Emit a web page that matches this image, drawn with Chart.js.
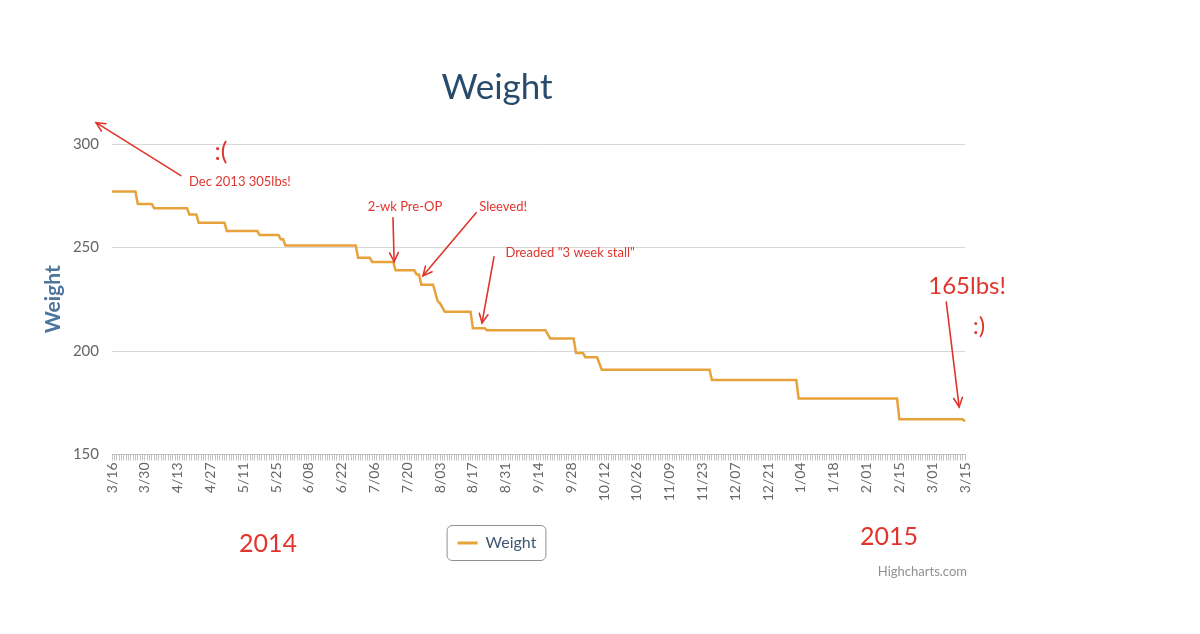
<!DOCTYPE html>
<html lang="en">
<head>
    <meta charset="UTF-8">
    <title>Weight</title>
    <script src="https://cdn.jsdelivr.net/npm/chart.js"></script>
    <style>
        body {
            margin: 0;
            background-color: #fff;
        }
        #wrap {
            position: relative;
            width: 1200px;
            height: 634px;
        }
    </style>
</head>
<body>
    <div id="wrap"><canvas id="weightChart"></canvas></div>

    <script>
        // weigh-ins (M/DD, lbs), start and end of each plateau
        const weighDates = [
            '3/16', '3/26', '3/27', '4/02', '4/03', '4/17', '4/18', '4/21', '4/22', '5/03',
            '5/04', '5/17', '5/18', '5/26', '5/27', '5/28', '5/29', '6/28', '6/29', '7/04',
            '7/05', '7/14', '7/15', '7/23', '7/24', '7/25', '7/26', '7/31', '8/02', '8/03',
            '8/05', '8/16', '8/17', '8/22', '8/23', '9/17', '9/19', '9/29', '9/30', '10/03',
            '10/04', '10/09', '10/11', '11/26', '11/27', '1/02', '1/03', '2/14', '2/15', '3/14',
            '3/15'
        ];
        const weighValues = [
            277, 277, 271, 271, 269, 269, 266, 266, 262, 262,
            258, 258, 256, 256, 254, 254, 251, 251, 245, 245,
            243, 243, 239, 239, 237, 237, 232, 232, 224, 223,
            219, 219, 211, 211, 210, 210, 206, 206, 199, 199,
            197, 197, 191, 191, 186, 186, 177, 177, 167, 167,
            166
        ];
        const yTicks = [150, 200, 250, 300];
        const firstDay = new Date(2014, 2, 16);
        const dayCount = 365;
        const labelEvery = 14;

        // one category per day, 3/16/2014 -> 3/15/2015
        const dayLabels = [];
        for (let i = 0; i < dayCount; i++) {
            const d = new Date(firstDay.getFullYear(), firstDay.getMonth(), firstDay.getDate() + i);
            dayLabels.push((d.getMonth() + 1) + '/' + String(d.getDate()).padStart(2, '0'));
        }

        // hand-written notes, placed in (day index, lbs)
        const RED = '#e0352c';
        const notes = [
            { text: 'Dec 2013 305lbs!', day: 54.6, w: 281.8, size: 13 },
            { text: ':(', day: 46.5, w: 296.3, size: 25 },
            { text: '2-wk Pre-OP', day: 125, w: 269.7, size: 13 },
            { text: 'Sleeved!', day: 166.9, w: 269.7, size: 13 },
            { text: 'Dreaded "3 week stall"', day: 195.5, w: 247.4, size: 13 },
            { text: '165lbs!', day: 364.9, w: 231.5, size: 24 },
            { text: ':)', day: 370, w: 212.1, size: 24 },
            { text: '2014', day: 66.6, w: 106.7, size: 25 },
            { text: '2015', day: 331.6, w: 110.1, size: 25 }
        ];
        const arrows = [
            { from: [29.4, 284.7], to: [-6.8, 310.3] },
            { from: [119.9, 264.4], to: [120.4, 243.1] },
            { from: [155.4, 266.8], to: [132.7, 236.3] },
            { from: [163, 245.5], to: [157.9, 213.6] },
            { from: [356, 223.7], to: [361.5, 173] }
        ];

        const notesPlugin = {
            id: 'notes',
            afterDraw(chart) {
                const ctx = chart.ctx;
                const px = d => chart.scales.x.getPixelForValue(d);
                const py = w => chart.scales.y.getPixelForValue(w);
                ctx.save();

                // arrows with open heads
                ctx.strokeStyle = RED;
                ctx.lineWidth = 1.6;
                ctx.lineCap = 'round';
                arrows.forEach(a => {
                    const x1 = px(a.from[0]), y1 = py(a.from[1]);
                    const x2 = px(a.to[0]), y2 = py(a.to[1]);
                    ctx.beginPath();
                    ctx.moveTo(x1, y1);
                    ctx.lineTo(x2, y2);
                    ctx.stroke();
                    const ang = Math.atan2(y2 - y1, x2 - x1);
                    ctx.beginPath();
                    ctx.moveTo(x2 - 10 * Math.cos(ang - 0.45), y2 - 10 * Math.sin(ang - 0.45));
                    ctx.lineTo(x2, y2);
                    ctx.lineTo(x2 - 10 * Math.cos(ang + 0.45), y2 - 10 * Math.sin(ang + 0.45));
                    ctx.stroke();
                });

                // texts
                ctx.fillStyle = RED;
                ctx.textAlign = 'center';
                ctx.textBaseline = 'middle';
                notes.forEach(n => {
                    ctx.font = n.size + 'px Lato';
                    ctx.fillText(n.text, px(n.day), py(n.w));
                });

                // rounded box round the legend item
                const hit = chart.legend.legendHitBoxes[0];
                if (hit) {
                    ctx.strokeStyle = '#909090';
                    ctx.lineWidth = 1;
                    ctx.beginPath();
                    ctx.roundRect(hit.left - 10.5, hit.top - 9.5, hit.width + 20, hit.height + 19, 5);
                    ctx.stroke();
                }

                // credits
                ctx.fillStyle = '#909090';
                ctx.font = '13px Lato';
                ctx.textAlign = 'right';
                ctx.fillText('Highcharts.com', chart.chartArea.right + 2, chart.height - 62);
                ctx.restore();
            }
        };

        Chart.defaults.font.family = 'Lato';

        new Chart(document.getElementById('weightChart'), {
            type: 'line',
            data: {
                labels: dayLabels,
                datasets: [{
                    label: 'Weight',
                    data: weighDates.map((d, i) => ({ x: d, y: weighValues[i] })),
                    borderColor: '#e8a23c',
                    backgroundColor: '#e8a23c',
                    borderWidth: 2.5,
                    pointRadius: 0,
                    tension: 0,
                    fill: false
                }]
            },
            options: {
                responsive: true,
                maintainAspectRatio: false,
                animation: false,
                layout: {
                    // the chart sits in the left ~994px, notes spill to the right
                    padding: { top: 0, left: 29, right: 235, bottom: 73 }
                },
                plugins: {
                    title: {
                        display: true,
                        text: 'Weight',
                        color: '#274b6d',
                        font: { size: 35, weight: 'normal' },
                        padding: { top: 67, bottom: 35 }
                    },
                    legend: {
                        position: 'bottom',
                        labels: {
                            color: '#3e576f',
                            font: { size: 16 },
                            boxWidth: 20,
                            boxHeight: 3,
                            padding: 10,
                            generateLabels: chart => Chart.defaults.plugins.legend.labels.generateLabels(chart)
                                .map(l => Object.assign(l, { lineWidth: 0 }))
                        }
                    },
                    tooltip: { enabled: false }
                },
                scales: {
                    x: {
                        type: 'category',
                        offset: false,
                        afterFit: scale => { scale.height = 70.5; },
                        grid: {
                            drawOnChartArea: false,
                            drawTicks: true,
                            tickLength: 6,
                            color: '#c4c4c4'
                        },
                        border: { display: true, color: '#c0c0c0' },
                        ticks: {
                            autoSkip: false,
                            minRotation: 90,
                            maxRotation: 90,
                            padding: 2,
                            color: '#666',
                            font: { size: 14 },
                            callback: function (value, index) {
                                return index % labelEvery === 0 ? this.getLabelForValue(value) : '';
                            }
                        }
                    },
                    y: {
                        min: yTicks[0],
                        max: yTicks[yTicks.length - 1],
                        afterFit: scale => { scale.width = 83; },
                        afterBuildTicks: scale => { scale.ticks = yTicks.map(v => ({ value: v })); },
                        grid: { color: '#d8d8d8', drawTicks: false },
                        border: { display: false },
                        ticks: {
                            padding: 13,
                            color: '#666',
                            font: { size: 15 }
                        },
                        title: {
                            display: true,
                            text: 'Weight',
                            color: '#4d759e',
                            font: { size: 21, weight: 'bold' },
                            padding: { top: 12, bottom: 0 }
                        }
                    }
                }
            },
            plugins: [notesPlugin]
        });
    </script>
</body>
</html>
